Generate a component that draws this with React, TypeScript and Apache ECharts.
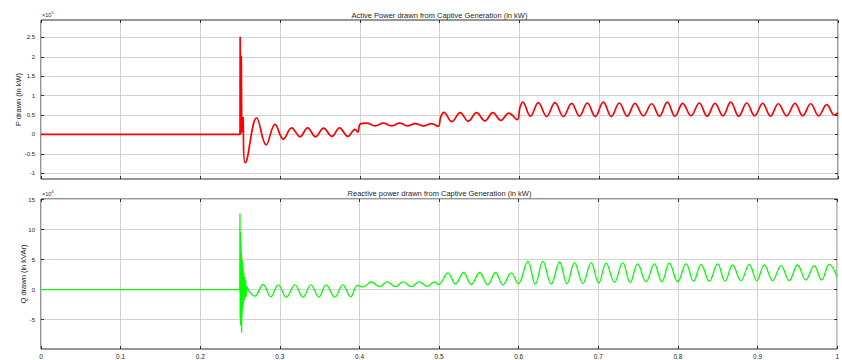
import React, { useEffect, useRef } from 'react';
import * as echarts from 'echarts';

// ---- Active power P (values in units of 10^5 kW) ----
const pSpikeTime = [0, 0.2497, 0.2499, 0.2505, 0.2513, 0.2519, 0.2537, 0.2541];
const pSpikeValue = [0, 0, 2.52, 0.0, 2.03, 0.05, 0.45, -0.2];

const pOscTime = [
  0.2541, 0.2562, 0.2706, 0.2825, 0.2936, 0.304, 0.3145, 0.325, 0.3345, 0.3445, 0.3545, 0.365, 0.3745, 0.385, 0.394, 0.3975,
  0.4005, 0.4085, 0.419, 0.4295, 0.44, 0.45, 0.46, 0.4695, 0.48, 0.49, 0.4985,
  0.5015, 0.5055, 0.5155, 0.526, 0.536, 0.5465, 0.557, 0.567, 0.577, 0.587, 0.5975,
  0.601, 0.6044, 0.6142, 0.624, 0.6345, 0.6449, 0.6554, 0.6658, 0.6756, 0.6854, 0.6955, 0.7055, 0.7156, 0.7256, 0.7355,
  0.7453, 0.7558, 0.7662, 0.776, 0.7858, 0.7955, 0.8051, 0.8156, 0.826, 0.8358, 0.8457, 0.8556, 0.8654, 0.8755, 0.8855,
  0.8955, 0.9055, 0.9153, 0.9251, 0.9356, 0.946, 0.9558, 0.9657, 0.9758, 0.9858, 0.9955, 1.0,
];
const pOscValue = [
  -0.2, -0.73, 0.43, -0.27, 0.26, -0.12, 0.17, -0.06, 0.17, -0.06, 0.16, -0.05, 0.17, -0.05, 0.13, 0.06,
  0.27, 0.29, 0.22, 0.29, 0.22, 0.29, 0.22, 0.28, 0.22, 0.28, 0.21,
  0.45, 0.57, 0.33, 0.56, 0.34, 0.56, 0.35, 0.56, 0.36, 0.55, 0.38,
  0.7, 0.83, 0.47, 0.82, 0.46, 0.82, 0.46, 0.8, 0.47, 0.81, 0.46, 0.83, 0.46, 0.81, 0.47,
  0.8, 0.48, 0.79, 0.47, 0.83, 0.47, 0.8, 0.48, 0.81, 0.47, 0.8, 0.48, 0.83, 0.47, 0.81,
  0.48, 0.8, 0.47, 0.79, 0.48, 0.8, 0.48, 0.79, 0.48, 0.77, 0.5, 0.56,
];

// ---- Reactive power Q (values in units of 10^4 kVAr) ----
const qSpikeTime = [
  0, 0.2497, 0.2499, 0.2502, 0.2505, 0.2508, 0.2511, 0.2514, 0.2517, 0.252, 0.2523, 0.2526, 0.253, 0.2534, 0.2538, 0.2542,
  0.2547, 0.2552, 0.2557, 0.2563, 0.2569, 0.2575, 0.2582,
];
const qSpikeValue = [
  0, 0, 12.7, -4.8, 9.6, -6.0, 7.6, -5.0, 6.2, -7.2, 5.2, -4.2, 4.8, -3.2, 3.6, -2.3, 2.8, -1.8, 2.1, -1.4, 1.6, -1.2, 0.5,
];

const qOscTime = [
  0.2582, 0.2685, 0.279, 0.2886, 0.298, 0.308, 0.319, 0.329, 0.339, 0.349, 0.358, 0.369, 0.379, 0.389, 0.3975,
  0.4045, 0.415, 0.425, 0.435, 0.445, 0.455, 0.465, 0.475, 0.485, 0.494, 0.4995,
  0.511, 0.5206, 0.5307, 0.5404, 0.551, 0.561, 0.571, 0.58, 0.5905, 0.5995,
  0.6114, 0.6208, 0.6303, 0.6408, 0.6512, 0.6606, 0.67, 0.6805, 0.691, 0.7004, 0.7098, 0.7202, 0.7306, 0.74,
  0.7494, 0.7599, 0.7704, 0.7798, 0.7892, 0.7997, 0.8102, 0.8196, 0.829, 0.8394, 0.8498, 0.8592, 0.8686, 0.8791,
  0.8896, 0.899, 0.9084, 0.9189, 0.9294, 0.9398, 0.9502, 0.9606, 0.9711, 0.9805, 0.99, 1.0,
];
const qOscValue = [
  0.5, -1.1, 0.85, -1.2, 0.8, -1.25, 0.8, -1.25, 0.8, -1.25, 0.8, -1.25, 0.8, -1.2, 0.7,
  0.45, 1.27, 0.5, 1.3, 0.5, 1.3, 0.5, 1.3, 0.55, 1.25, 0.85,
  2.8, 0.9, 2.85, 0.85, 2.85, 0.8, 2.85, 0.8, 2.8, 1.0,
  4.7, 0.9, 4.7, 0.9, 4.6, 1.0, 4.5, 1.0, 4.5, 1.1, 4.4, 1.2, 4.5, 1.2,
  4.3, 1.3, 4.3, 1.3, 4.4, 1.3, 4.3, 1.4, 4.2, 1.4, 4.3, 1.4, 4.1, 1.5,
  4.2, 1.5, 4.1, 1.5, 4.0, 1.5, 4.1, 1.6, 4.0, 1.6, 4.2, 2.1,
];

// ---- Axis ticks ----
const timeMin = 0;
const timeMax = 1;
const timeStep = 0.1;
const pTicks = [-1, -0.5, 0, 0.5, 1, 1.5, 2, 2.5];
const pRange = [-1.15, 2.95];
const qTicks = [-5, 0, 5, 10, 15];
const qRange = [-9.9, 15.1];

const pTitle = 'Active Power drawn from Captive Generation (in kW)';
const qTitle = 'Reactive power drawn from Captive Generation (in kW)';
const pAxisName = 'P drawn (in kW)';
const qAxisName = 'Q drawn (in kVAr)';
const pExponent = '5';
const qExponent = '4';

const zip = (t: number[], v: number[]) => t.map((x, i) => [x, v[i]]);

export default function App() {
  const ref = useRef<HTMLDivElement>(null);

  useEffect(() => {
    const chart = echarts.init(ref.current as HTMLDivElement, null, { renderer: 'svg' });
    const font = '"Liberation Sans", Arial, Helvetica, sans-serif';
    const textColor = '#262626';
    const gridLine = '#d2d2d2';
    const boxColor = '#2e2e2e';

    const plotLeft = 41;
    const plotWidth = 797;
    const grids = [
      { left: plotLeft, top: 20, width: plotWidth, height: 159 },
      { left: plotLeft, top: 199, width: plotWidth, height: 151 },
    ];

    const mkX = (gridIndex: number, position: 'top' | 'bottom', labels: boolean, split: boolean) => ({
      type: 'value',
      gridIndex,
      position,
      min: timeMin,
      max: timeMax,
      interval: timeStep,
      axisLine: { show: false, onZero: false },
      axisTick: { show: true, inside: true, length: 3, lineStyle: { color: boxColor, width: 1 } },
      axisLabel: {
        show: labels,
        margin: 4,
        fontSize: 6.5,
        fontFamily: font,
        color: textColor,
        showMinLabel: true,
        showMaxLabel: true,
      },
      splitLine: { show: split, lineStyle: { color: gridLine, width: 1 } },
    });

    const mkY = (
      gridIndex: number,
      position: 'left' | 'right',
      range: number[],
      ticks: number[],
      name: string,
      nameGap: number,
    ) => ({
      type: 'value',
      gridIndex,
      position,
      min: range[0],
      max: range[1],
      name: position === 'left' ? name : '',
      nameLocation: 'middle',
      nameGap,
      nameMoveOverlap: false,
      nameTextStyle: { fontSize: 7.5, fontFamily: font, color: textColor },
      axisLine: { show: false, onZero: false },
      axisTick: {
        show: true,
        inside: true,
        length: 3,
        customValues: ticks,
        lineStyle: { color: boxColor, width: 1 },
      },
      axisLabel: {
        show: position === 'left',
        customValues: ticks,
        margin: 6,
        fontSize: 6,
        fontFamily: font,
        color: textColor,
      },
      splitLine: { show: position === 'left', lineStyle: { color: gridLine, width: 1 } },
    });

    const supText = (exp: string, x: number, y: number) => ({
      type: 'text',
      x,
      y,
      style: {
        text: '{b|×10}{s|' + exp + '}',
        fontFamily: font,
        fill: textColor,
        verticalAlign: 'bottom',
        rich: {
          b: { fontSize: 5.5, fontFamily: font, fill: textColor, verticalAlign: 'bottom' },
          s: { fontSize: 4, fontFamily: font, fill: textColor, verticalAlign: 'top', padding: [0, 0, 4, 0] },
        },
      },
    });

    const titleText = (text: string, y: number) => ({
      type: 'text',
      x: plotLeft + plotWidth / 2,
      y,
      style: {
        text,
        fontSize: 7.5,
        fontFamily: font,
        fill: textColor,
        align: 'center',
        verticalAlign: 'middle',
      },
    });

    const redLine = { color: '#ff0000', width: 1.7 };
    const greenLine = { color: '#00ff00', width: 1.3 };

    const option = {
      animation: false,
      backgroundColor: '#ffffff',
      grid: grids.map((g) => ({ ...g, show: true, borderColor: boxColor, borderWidth: 1, containLabel: false })),
      xAxis: [mkX(0, 'bottom', false, true), mkX(0, 'top', false, false), mkX(1, 'bottom', true, true), mkX(1, 'top', false, false)],
      yAxis: [
        mkY(0, 'left', pRange, pTicks, pAxisName, 19),
        mkY(0, 'right', pRange, pTicks, '', 0),
        mkY(1, 'left', qRange, qTicks, qAxisName, 14),
        mkY(1, 'right', qRange, qTicks, '', 0),
      ],
      graphic: [
        titleText(pTitle, 15.5),
        titleText(qTitle, 193.5),
        supText(pExponent, 42, 18),
        supText(qExponent, 42, 197),
      ],
      series: [
        {
          type: 'line',
          xAxisIndex: 0,
          yAxisIndex: 0,
          showSymbol: false,
          data: zip(pSpikeTime, pSpikeValue),
          lineStyle: redLine,
          itemStyle: { color: '#ff0000' },
        },
        {
          type: 'line',
          xAxisIndex: 0,
          yAxisIndex: 0,
          showSymbol: false,
          smooth: 0.4,
          data: zip(pOscTime, pOscValue),
          lineStyle: redLine,
          itemStyle: { color: '#ff0000' },
        },
        {
          type: 'line',
          xAxisIndex: 2,
          yAxisIndex: 2,
          showSymbol: false,
          data: zip(qSpikeTime, qSpikeValue),
          lineStyle: greenLine,
          itemStyle: { color: '#00ff00' },
        },
        {
          type: 'line',
          xAxisIndex: 2,
          yAxisIndex: 2,
          showSymbol: false,
          smooth: 0.4,
          data: zip(qOscTime, qOscValue),
          lineStyle: greenLine,
          itemStyle: { color: '#00ff00' },
        },
      ],
    };

    chart.setOption(option as any);
    return () => chart.dispose();
  }, []);

  return (
    <div
      ref={ref}
      style={{ position: 'fixed', left: 0, top: 0, width: 842, height: 360, background: '#ffffff' }}
    />
  );
}
